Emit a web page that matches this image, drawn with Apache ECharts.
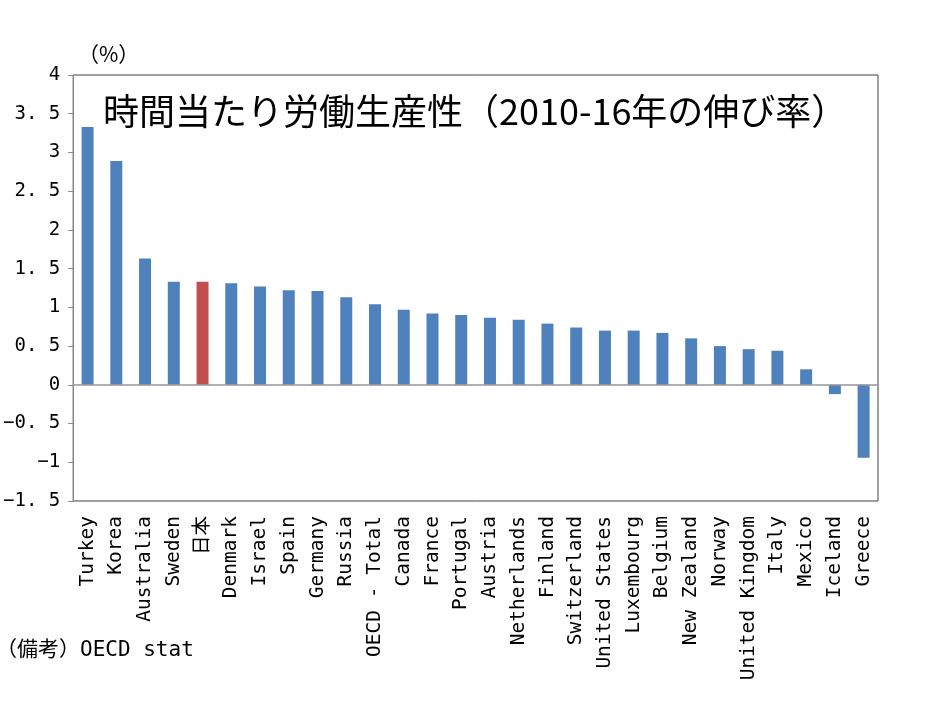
<!DOCTYPE html>
<html>
<head>
<meta charset="utf-8">
<script src="https://cdn.jsdelivr.net/npm/echarts@6/dist/echarts.min.js"></script>
<style>
html,body{margin:0;padding:0;background:#fff;}
#chart{width:934px;height:701px;}
</style>
</head>
<body>
<div id="chart"></div>
<script>
var categories = ['Turkey','Korea','Australia','Sweden','日本','Denmark','Israel','Spain','Germany','Russia','OECD - Total','Canada','France','Portugal','Austria','Netherlands','Finland','Switzerland','United States','Luxembourg','Belgium','New Zealand','Norway','United Kingdom','Italy','Mexico','Iceland','Greece'];
var values = [3.33, 2.89, 1.63, 1.33, 1.33, 1.31, 1.27, 1.22, 1.21, 1.13, 1.04, 0.97, 0.92, 0.90, 0.865, 0.84, 0.79, 0.74, 0.70, 0.70, 0.67, 0.60, 0.50, 0.46, 0.44, 0.20, -0.12, -0.94];
var highlight = '日本';
var yTicks = { min: -1.5, max: 4, interval: 0.5 };
var titleText = '時間当たり労働生産性（2010-16年の伸び率）';
var unitText = '（%）';
var noteText = '（備考）OECD stat';

var MONO = "'DejaVu Sans Mono', 'Noto Sans CJK JP', monospace";
var CJK = "'Noto Sans CJK JP', sans-serif";

var chart = echarts.init(document.getElementById('chart'), null, { renderer: 'canvas' });
chart.setOption({
  backgroundColor: '#ffffff',
  animation: false,
  grid: { left: 69, right: 56, top: 75, bottom: 200, show: true, borderColor: '#404040', borderWidth: 1, backgroundColor: 'transparent' },
  xAxis: {
    type: 'category',
    data: categories,
    axisLine: { show: false, onZero: false },
    axisTick: { show: false },
    axisLabel: { rotate: 90, interval: 0, margin: 15, color: '#000', fontSize: 19.5, fontFamily: MONO }
  },
  yAxis: {
    type: 'value',
    min: yTicks.min, max: yTicks.max, interval: yTicks.interval,
    splitLine: { show: false },
    axisLine: { show: true, lineStyle: { color: '#868686', width: 1 } },
    axisTick: { show: true, inside: false, length: 5, lineStyle: { color: '#868686' } },
    axisLabel: { margin: 13, color: '#000', fontSize: 19, fontFamily: MONO,
      formatter: function (v) { return String(v).replace('.', '. ').replace('-', '−'); } }
  },
  series: [{
    type: 'bar',
    barWidth: 12,
    data: values.map(function (v, i) {
      return { value: v, itemStyle: { color: categories[i] === highlight ? '#C0504D' : '#4F81BD' } };
    }),
    markLine: {
      silent: true, symbol: 'none', label: { show: false },
      lineStyle: { color: '#969696', type: 'solid', width: 1.5 },
      data: [{ yAxis: 0 }]
    },
    z: 3
  }],
  graphic: [
    { type: 'text', left: 103, top: 93, z: 10,
      style: { text: titleText, font: '36px ' + CJK, fill: '#000' } },
    { type: 'text', left: 78, top: 44,
      style: { text: unitText, font: '21px ' + CJK, fill: '#000' } },
    { type: 'text', left: -4, top: 640,
      style: { text: noteText, font: '21px ' + MONO, fill: '#000' } }
  ]
});
</script>
</body>
</html>
